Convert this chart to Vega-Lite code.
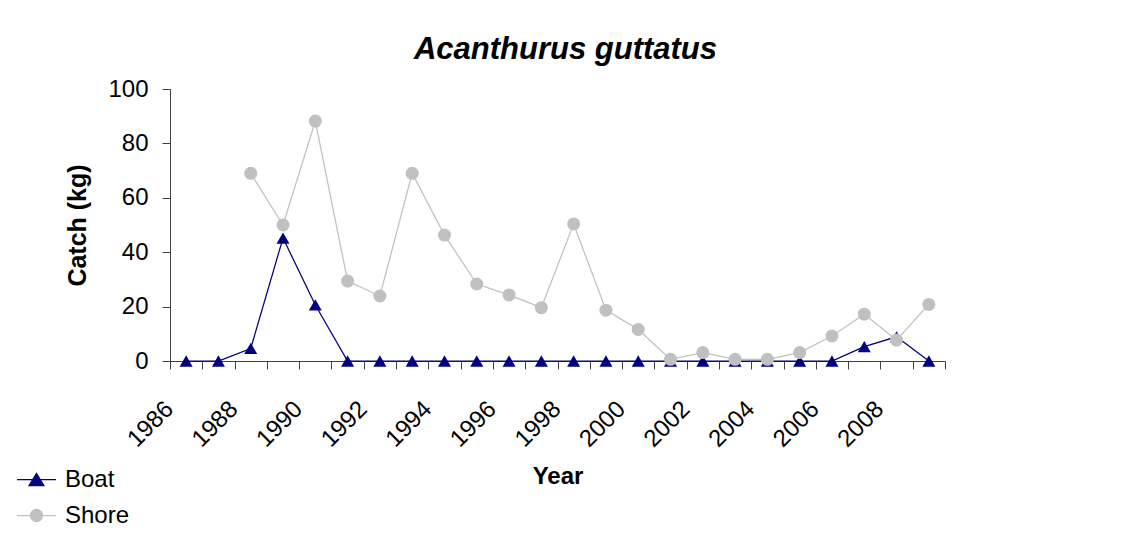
{
  "$schema": "https://vega.github.io/schema/vega-lite/v6.json",
  "width": 775,
  "height": 272,
  "autosize": {"type": "none"},
  "padding": {"left": 170, "top": 89, "right": 190, "bottom": 182},
  "background": "white",
  "config": {"view": {"stroke": null}, "font": "Liberation Sans"},
  "title": {
    "text": "Acanthurus guttatus",
    "font": "Liberation Sans",
    "fontSize": 31,
    "fontStyle": "italic",
    "fontWeight": "bold",
    "color": "black",
    "anchor": "middle",
    "baseline": "alphabetic",
    "offset": 32,
    "dx": 8,
    "dy": 45
  },
  "data": {
    "values": [
      {"year": 1986, "series": "Boat", "value": 0},
      {"year": 1987, "series": "Boat", "value": 0},
      {"year": 1988, "series": "Boat", "value": 4.6},
      {"year": 1989, "series": "Boat", "value": 45.2},
      {"year": 1990, "series": "Boat", "value": 20.6},
      {"year": 1991, "series": "Boat", "value": 0},
      {"year": 1992, "series": "Boat", "value": 0},
      {"year": 1993, "series": "Boat", "value": 0},
      {"year": 1994, "series": "Boat", "value": 0},
      {"year": 1995, "series": "Boat", "value": 0},
      {"year": 1996, "series": "Boat", "value": 0},
      {"year": 1997, "series": "Boat", "value": 0},
      {"year": 1998, "series": "Boat", "value": 0},
      {"year": 1999, "series": "Boat", "value": 0},
      {"year": 2000, "series": "Boat", "value": 0},
      {"year": 2001, "series": "Boat", "value": 0},
      {"year": 2002, "series": "Boat", "value": 0},
      {"year": 2003, "series": "Boat", "value": 0},
      {"year": 2004, "series": "Boat", "value": 0},
      {"year": 2005, "series": "Boat", "value": 0},
      {"year": 2006, "series": "Boat", "value": 0},
      {"year": 2007, "series": "Boat", "value": 5.3},
      {"year": 2008, "series": "Boat", "value": 8.9},
      {"year": 2009, "series": "Boat", "value": 0},
      {"year": 1988, "series": "Shore", "value": 69},
      {"year": 1989, "series": "Shore", "value": 50},
      {"year": 1990, "series": "Shore", "value": 88.2},
      {"year": 1991, "series": "Shore", "value": 29.4},
      {"year": 1992, "series": "Shore", "value": 23.9},
      {"year": 1993, "series": "Shore", "value": 69},
      {"year": 1994, "series": "Shore", "value": 46.3},
      {"year": 1995, "series": "Shore", "value": 28.3},
      {"year": 1996, "series": "Shore", "value": 24.3},
      {"year": 1997, "series": "Shore", "value": 19.6},
      {"year": 1998, "series": "Shore", "value": 50.4},
      {"year": 1999, "series": "Shore", "value": 18.7},
      {"year": 2000, "series": "Shore", "value": 11.6},
      {"year": 2001, "series": "Shore", "value": 0.6},
      {"year": 2002, "series": "Shore", "value": 3.1},
      {"year": 2003, "series": "Shore", "value": 0.6},
      {"year": 2004, "series": "Shore", "value": 0.6},
      {"year": 2005, "series": "Shore", "value": 3.1},
      {"year": 2006, "series": "Shore", "value": 9.2},
      {"year": 2007, "series": "Shore", "value": 17.2},
      {"year": 2008, "series": "Shore", "value": 7.7},
      {"year": 2009, "series": "Shore", "value": 20.8}
    ]
  },
  "encoding": {
    "x": {
      "field": "year",
      "type": "ordinal",
      "scale": {"type": "band", "paddingInner": 0, "paddingOuter": 0},
      "axis": {
        "title": "Year",
        "titleFont": "Liberation Sans",
        "titleFontSize": 24,
        "titleFontWeight": "bold",
        "titleColor": "black",
        "titlePadding": 13,
        "labelAngle": -45,
        "labelAlign": "right",
        "labelBaseline": "alphabetic",
        "labelFont": "Liberation Sans",
        "labelFontSize": 24,
        "labelColor": "black",
        "labelPadding": 41,
        "labelOffset": -12,
        "labelOverlap": false,
        "labelFlush": false,
        "labelExpr": "datum.value % 2 == 0 ? datum.label : ''",
        "tickBand": "extent",
        "tickSize": 8,
        "tickColor": "#404040",
        "domainColor": "#404040",
        "grid": false
      }
    },
    "y": {
      "field": "value",
      "type": "quantitative",
      "scale": {"domain": [0, 100], "nice": false},
      "axis": {
        "title": "Catch (kg)",
        "titleFont": "Liberation Sans",
        "titleFontSize": 25,
        "titleFontWeight": "bold",
        "titleColor": "black",
        "titlePadding": 17,
        "values": [0, 20, 40, 60, 80, 100],
        "labelFont": "Liberation Sans",
        "labelFontSize": 24,
        "labelColor": "black",
        "labelPadding": 14,
        "labelFlush": false,
        "tickSize": 8,
        "tickColor": "#404040",
        "domainColor": "#404040",
        "grid": false
      }
    },
    "color": {
      "field": "series",
      "type": "nominal",
      "scale": {"domain": ["Boat", "Shore"], "range": ["#000080", "#C0C0C0"]},
      "legend": {
        "orient": "none",
        "legendX": -154,
        "legendY": 370,
        "title": null,
        "padding": 0,
        "labelFont": "Liberation Sans",
        "labelFontSize": 24,
        "labelColor": "black",
        "labelOffset": 8,
        "rowPadding": 3,
        "symbolSize": 1521,
        "symbolStrokeWidth": 1.25,
        "encode": {
          "symbols": {
            "update": {
              "shape": {"signal": "datum.value === 'Boat' ? 'M-1,0H1M-0.38,0.31L0,-0.31L0.38,0.31Z' : 'M-1,0H1M0.31,0A0.31,0.31 0 1,1 -0.31,0A0.31,0.31 0 1,1 0.31,0Z'"},
              "fill": {"signal": "datum.value === 'Boat' ? '#000080' : '#C0C0C0'"},
              "stroke": {"signal": "datum.value === 'Boat' ? '#000080' : '#C0C0C0'"},
              "strokeWidth": {"value": 1.25},
              "opacity": {"value": 1},
              "fillOpacity": {"value": 1},
              "strokeOpacity": {"value": 1}
            }
          }
        }
      }
    }
  },
  "layer": [
    {
      "transform": [{"filter": "datum.series === 'Boat'"}],
      "mark": {"type": "line", "strokeWidth": 1.25}
    },
    {
      "transform": [{"filter": "datum.series === 'Boat'"}],
      "mark": {"type": "point", "shape": "triangle-up", "filled": true, "size": 169, "opacity": 1}
    },
    {
      "transform": [{"filter": "datum.series === 'Shore'"}],
      "mark": {"type": "line", "strokeWidth": 1.25}
    },
    {
      "transform": [{"filter": "datum.series === 'Shore'"}],
      "mark": {"type": "point", "shape": "circle", "filled": true, "size": 169, "opacity": 1}
    }
  ]
}
